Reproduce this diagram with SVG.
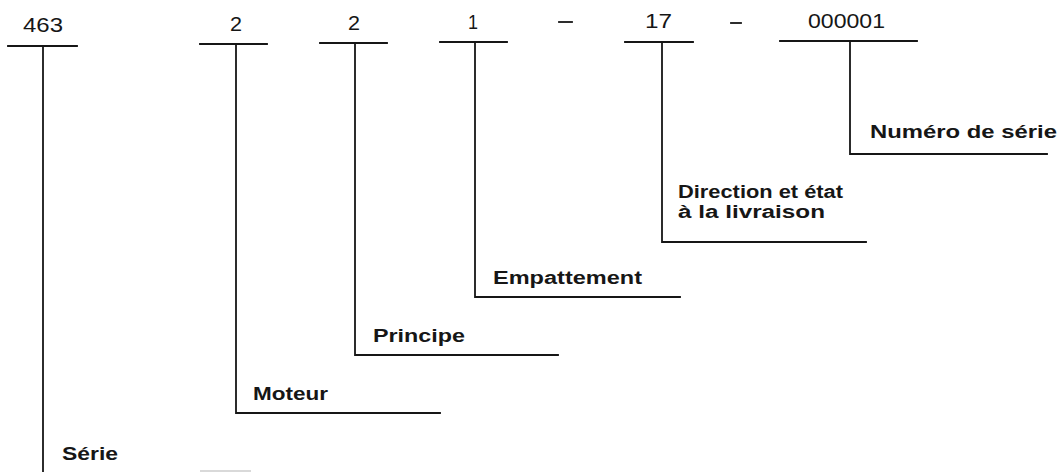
<svg xmlns="http://www.w3.org/2000/svg" width="1060" height="472" viewBox="0 0 1060 472">
  <style>
    .num { font-family: "Liberation Sans", Arial, sans-serif; font-size: 20px; fill: #161616; }
    .lbl { font-family: "Liberation Sans", Arial, sans-serif; font-size: 18px; font-weight: bold; fill: #161616; }
    .ln { stroke: #161616; stroke-width: 1.8; fill: none; stroke-linecap: square; }
  </style>
  <rect width="1060" height="472" fill="#ffffff"/>

  <!-- code segments with their underlines -->
  <g id="seg-serie">
    <text class="num" x="23" y="32" textLength="40" lengthAdjust="spacingAndGlyphs">463</text>
    <line class="ln" x1="8" y1="46" x2="77" y2="46"/>
  </g>
  <g id="seg-moteur">
    <text class="num" x="230" y="31" textLength="12" lengthAdjust="spacingAndGlyphs">2</text>
    <line class="ln" x1="200" y1="44" x2="267" y2="44"/>
  </g>
  <g id="seg-principe">
    <text class="num" x="348" y="30" textLength="12" lengthAdjust="spacingAndGlyphs">2</text>
    <line class="ln" x1="320" y1="43" x2="387" y2="43"/>
  </g>
  <g id="seg-empattement">
    <text class="num" x="468" y="29" textLength="10" lengthAdjust="spacingAndGlyphs">1</text>
    <line class="ln" x1="440" y1="42" x2="507" y2="42"/>
  </g>
  <g id="sep-1">
    <line class="ln" x1="559" y1="22" x2="572" y2="22"/>
  </g>
  <g id="seg-direction">
    <text class="num" x="645" y="28" textLength="27" lengthAdjust="spacingAndGlyphs">17</text>
    <line class="ln" x1="625" y1="42" x2="693" y2="42"/>
  </g>
  <g id="sep-2">
    <line class="ln" x1="731" y1="23" x2="741" y2="23" stroke-width="1.4"/>
  </g>
  <g id="seg-numero">
    <text class="num" x="808" y="28" textLength="77" lengthAdjust="spacingAndGlyphs">000001</text>
    <line class="ln" x1="780" y1="41" x2="917" y2="41"/>
  </g>

  <!-- leader lines -->
  <g id="connectors">
    <polyline class="ln" points="43,46 43,472"/>
    <polyline class="ln" points="236,44 236,413 440,413"/>
    <polyline class="ln" points="355,43 355,355 558,355"/>
    <polyline class="ln" points="475,42 475,297 680,297"/>
    <polyline class="ln" points="662,42 662,242 866,242"/>
    <polyline class="ln" points="850,41 850,154 1047,154"/>
    <line x1="200" y1="471" x2="251" y2="471" stroke="#b4b4b4" stroke-width="1.2"/>
  </g>

  <!-- labels -->
  <g id="label-serie">
    <text class="lbl" x="62" y="460" textLength="56" lengthAdjust="spacingAndGlyphs">Série</text>
  </g>
  <g id="label-moteur">
    <text class="lbl" x="253" y="400" textLength="75" lengthAdjust="spacingAndGlyphs">Moteur</text>
  </g>
  <g id="label-principe">
    <text class="lbl" x="373" y="342" textLength="92" lengthAdjust="spacingAndGlyphs">Principe</text>
  </g>
  <g id="label-empattement">
    <text class="lbl" x="493" y="284" textLength="149" lengthAdjust="spacingAndGlyphs">Empattement</text>
  </g>
  <g id="label-direction">
    <text class="lbl" x="678" y="198" textLength="165" lengthAdjust="spacingAndGlyphs">Direction et état</text>
    <text class="lbl" x="678" y="218" textLength="147" lengthAdjust="spacingAndGlyphs">à la livraison</text>
  </g>
  <g id="label-numero">
    <text class="lbl" x="870" y="138" textLength="187" lengthAdjust="spacingAndGlyphs">Numéro de série</text>
  </g>
</svg>
